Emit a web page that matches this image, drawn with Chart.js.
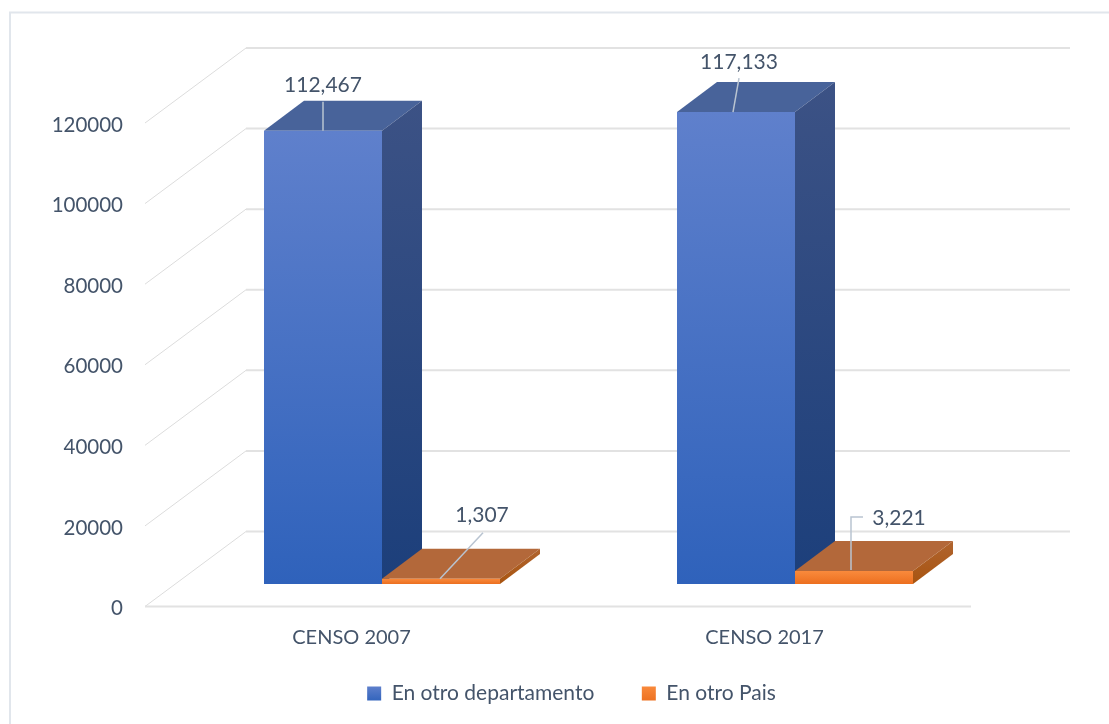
<!DOCTYPE html>
<html>
<head>
<meta charset="utf-8">
<title>Censo</title>
<script src="https://cdn.jsdelivr.net/npm/chart.js@4"></script>
<style>
    html, body { margin: 0; padding: 0; background: #fff; overflow: hidden; }
    #wrap { width: 1109px; height: 724px; }
</style>
</head>
<body>
<div id="wrap"><canvas id="myChart" width="1109" height="724"></canvas></div>
<script>
// Data
const categorias = ["CENSO 2007", "CENSO 2017"];
const enOtroDepartamento = [112467, 117133];
const enOtroPais = [1307, 3221];
const ticksY = [0, 20000, 40000, 60000, 80000, 100000, 120000];

// 3D look
const FUENTE = "Lato, 'Open Sans', sans-serif";
const TEXTO = "#44546a";
const PISO = { dx: 101, dy: -75 };    // profundidad del piso
const BARRA = { dx: 40, dy: -30 };    // profundidad de la barra
const PLANO = { dx: 30.5, dy: -22.5 }; // plano frontal de las barras
const GRIS = "#e2e2e2";

// Leader lines: [dataset][categoria] -> puntos relativos a la barra y centro del texto
const lideres = [
    [
        { linea: [[0, 0], [0, -29]], texto: [0, -46] },
        { linea: [[-3, 0], [3, -34]], texto: [3, -50] }
    ],
    [
        { linea: [[-1, 0], [42, -46]], texto: [41, -63] },
        { linea: [[-3, -1], [-3, -54], [9, -54]], texto: [45, -53] }
    ]
];

function gradiente(ctx, y0, y1, c0, c1) {
    const g = ctx.createLinearGradient(0, y0, 0, y1);
    g.addColorStop(0, c0);
    g.addColorStop(1, c1);
    return g;
}

const estilos = [
    { frente: ["#5f80cc", "#2f62bb"], lado: ["#3c5285", "#1c3f7b"], tapa: "#48639a" },
    { frente: ["#f98a3c", "#ec6f1f"], lado: ["#b0642f", "#a85410"], tapa: "#b3683a" }
];

function poligono(ctx, puntos, relleno) {
    ctx.beginPath();
    puntos.forEach((p, i) => i ? ctx.lineTo(p[0], p[1]) : ctx.moveTo(p[0], p[1]));
    ctx.closePath();
    ctx.fillStyle = relleno;
    ctx.fill();
}

const paredes = {
    id: "paredes",
    afterLayout(chart) {
        // la leyenda queda mas arriba que su caja
        chart.legend.top -= 16;
    },
    beforeDatasetsDraw(chart) {
        const ctx = chart.ctx;
        const area = chart.chartArea;
        const y = chart.scales.y;

        ctx.save();
        // marco
        ctx.strokeStyle = "#e1e6ec";
        ctx.lineWidth = 2;
        ctx.beginPath();
        ctx.moveTo(10, 724);
        ctx.lineTo(10, 12.5);
        ctx.lineTo(1109, 12.5);
        ctx.stroke();

        ticksY.forEach(v => {
            const py = y.getPixelForValue(v);
            ctx.strokeStyle = "#dcdcdc";
            ctx.lineWidth = 1;
            ctx.beginPath();
            ctx.moveTo(area.left, py);
            ctx.lineTo(area.left + PISO.dx, py + PISO.dy);
            ctx.stroke();
            ctx.strokeStyle = GRIS;
            ctx.lineWidth = 2;
            ctx.beginPath();
            ctx.moveTo(area.left + PISO.dx, py + PISO.dy);
            ctx.lineTo(1070, py + PISO.dy);
            ctx.stroke();
        });
        const py0 = y.getPixelForValue(0);
        ctx.strokeStyle = GRIS;
        ctx.lineWidth = 2;
        ctx.beginPath();
        ctx.moveTo(area.left, py0);
        ctx.lineTo(area.right, py0);
        ctx.stroke();
        ctx.restore();

        // las barras van sobre su propio plano
        ctx.save();
        ctx.translate(PLANO.dx, PLANO.dy);

        // caras de arriba y del lado: azul primero, naranja encima
        [0, 1].forEach(indice => {
            const est = estilos[indice];
            chart.getDatasetMeta(indice).data.forEach(bar => {
                const izq = bar.x - bar.width / 2;
                const der = bar.x + bar.width / 2;
                poligono(ctx, [
                    [izq, bar.y], [der, bar.y],
                    [der + BARRA.dx, bar.y + BARRA.dy], [izq + BARRA.dx, bar.y + BARRA.dy]
                ], est.tapa);
                poligono(ctx, [
                    [der, bar.y], [der + BARRA.dx, bar.y + BARRA.dy],
                    [der + BARRA.dx, bar.base + BARRA.dy], [der, bar.base]
                ], gradiente(ctx, bar.y + BARRA.dy, bar.base, est.lado[0], est.lado[1]));
            });
        });
    },
    afterDatasetsDraw(chart) {
        const ctx = chart.ctx;
        [0, 1].forEach(indice => {
            chart.getDatasetMeta(indice).data.forEach((bar, i) => {
                const lider = lideres[indice][i];
                ctx.strokeStyle = "#b9c4d1";
                ctx.lineWidth = 1.5;
                ctx.beginPath();
                lider.linea.forEach((p, j) => {
                    if (j) ctx.lineTo(bar.x + p[0], bar.y + p[1]);
                    else ctx.moveTo(bar.x + p[0], bar.y + p[1]);
                });
                ctx.stroke();
                ctx.fillStyle = TEXTO;
                ctx.font = "21px " + FUENTE;
                ctx.textAlign = "center";
                ctx.textBaseline = "middle";
                const valor = chart.data.datasets[indice].data[i].toLocaleString("en-US");
                ctx.fillText(valor, bar.x + lider.texto[0], bar.y + lider.texto[1]);
            });
        });
        ctx.restore();
    }
};

const ctx = document.getElementById("myChart");

function fondo(indice) {
    return function (c) {
        const est = estilos[indice].frente;
        if (c.type !== "data") return est[1];
        const y = c.chart.scales.y;
        return gradiente(c.chart.ctx, y.getPixelForValue(c.raw), y.getPixelForValue(0), est[0], est[1]);
    };
}

new Chart(ctx, {
    type: "bar",
    data: {
        labels: categorias,
        datasets: [
            {
                label: "En otro departamento",
                data: enOtroDepartamento,
                backgroundColor: fondo(0),
                categoryPercentage: 0.5714,
                barPercentage: 1
            },
            {
                label: "En otro Pais",
                data: enOtroPais,
                backgroundColor: fondo(1),
                categoryPercentage: 0.5714,
                barPercentage: 1
            }
        ]
    },
    options: {
        responsive: false,
        animation: false,
        layout: { padding: { left: 34, right: 0, top: 123, bottom: -6 } },
        scales: {
            x: {
                grid: { display: false },
                border: { display: false },
                afterFit(s) { s.height = 45; },
                ticks: {
                    color: TEXTO,
                    padding: 11,
                    font: { family: FUENTE, size: 20 }
                }
            },
            y: {
                min: 0,
                max: 120000,
                grid: { display: false },
                border: { display: false },
                afterFit(s) { s.width = 111; },
                afterBuildTicks(s) { s.ticks = ticksY.map(v => ({ value: v })); },
                ticks: {
                    color: TEXTO,
                    padding: 14,
                    labelOffset: 2,
                    callback: v => String(v),
                    font: { family: FUENTE, size: 20.5 }
                }
            },
            derecha: {
                position: "right",
                display: true,
                grid: { display: false },
                border: { display: false },
                ticks: { display: false },
                afterFit(s) { s.width = 138; }
            }
        },
        plugins: {
            title: { display: false },
            tooltip: { enabled: false },
            legend: {
                position: "bottom",
                labels: {
                    color: TEXTO,
                    boxWidth: 14,
                    boxHeight: 14,
                    padding: 47.5,
                    font: { family: FUENTE, size: 21 },
                    generateLabels(chart) {
                        return chart.data.datasets.map((d, i) => ({
                            text: d.label,
                            fillStyle: gradiente(chart.ctx, 686, 702, estilos[i].frente[0], estilos[i].frente[1]),
                            strokeStyle: "transparent",
                            lineWidth: 0,
                            fontColor: TEXTO,
                            datasetIndex: i
                        }));
                    }
                }
            }
        }
    },
    plugins: [paredes]
});
</script>
</body>
</html>
